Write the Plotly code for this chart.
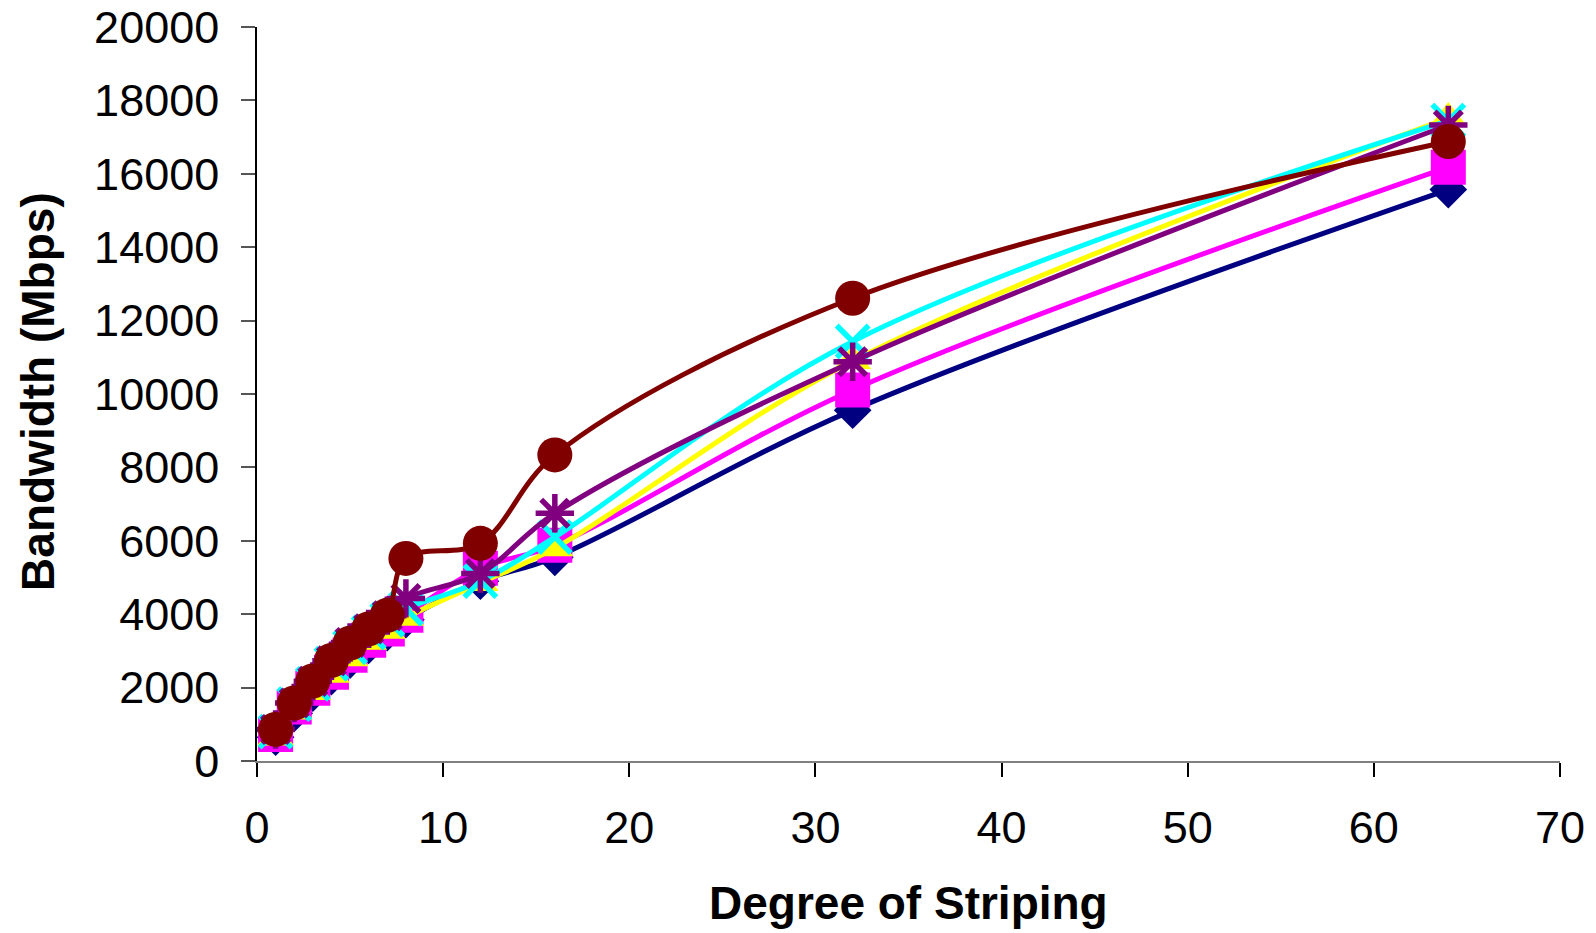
import plotly.graph_objects as go

# degree of striping
stripes = [1, 2, 3, 4, 5, 6, 7, 8, 12, 16, 32, 64]

# bandwidth (Mbps) per series
navy_bw = [650, 1300, 1850, 2300, 2750, 3150, 3500, 3850, 4900, 5550, 9560, 15570]
magenta_bw = [720, 1470, 1980, 2420, 2880, 3290, 3600, 3970, 5250, 5880, 10110, 16180]
yellow_bw = [640, 1350, 1880, 2350, 2800, 3250, 3550, 3900, 4850, 5800, 10900, 17520]
cyan_bw = [800, 1550, 2100, 2650, 3100, 3500, 3850, 4150, 4900, 6100, 11430, 17450]
purple_bw = [860, 1580, 2170, 2730, 3230, 3600, 3960, 4430, 5110, 6750, 10880, 17330]
brown_bw = [860, 1580, 2180, 2740, 3210, 3600, 3970, 5520, 5930, 8340, 12610, 16880]

series = [
    (navy_bw, "#000080", "diamond", 29),
    (magenta_bw, "#FF00FF", "square", 35),
    (yellow_bw, "#FFFF00", "triangle-up", 32),
    (cyan_bw, "#00FFFF", "x-thin-open", 32),
    (purple_bw, "#800080", "asterisk-open", 32),
    (brown_bw, "#800000", "circle", 35),
]

FONT = "Liberation Sans, Arial, sans-serif"

fig = go.Figure()
for ys, color, symbol, size in series:
    marker = dict(symbol=symbol, size=size, color=color)
    if symbol.endswith("-open"):
        marker["line"] = dict(color=color, width=5.5)
    else:
        marker["line"] = dict(width=0)
    fig.add_trace(go.Scatter(
        x=stripes, y=ys, mode="lines+markers",
        line=dict(color=color, width=5, shape="spline", smoothing=1),
        marker=marker, showlegend=False, cliponaxis=False,
    ))

fig.update_xaxes(
    range=[0, 70], dtick=10, showgrid=False, zeroline=False, automargin=False,
    showline=True, linecolor="#808080", linewidth=2,
    ticks="outside", ticklen=14, tickwidth=1.5, tickcolor="black",
    ticklabelstandoff=12, ticklabeloverflow="allow",
    tickfont=dict(family=FONT, size=45, color="black"),
)
fig.update_yaxes(
    range=[0, 20000], dtick=2000, tickformat="d", showgrid=False, zeroline=False,
    automargin=False, showline=True, linecolor="black", linewidth=1.5,
    ticks="outside", ticklen=14, tickwidth=1.5, tickcolor="#555555",
    ticklabelstandoff=13, ticklabeloverflow="allow",
    tickfont=dict(family=FONT, size=45, color="black"),
)

fig.add_annotation(
    text="<b>Degree of Striping</b>", xref="paper", yref="paper",
    x=0.5, y=-0.194, yanchor="middle", showarrow=False,
    font=dict(family=FONT, size=46, color="black"),
)
fig.add_annotation(
    text="<b>Bandwidth (Mbps)</b>", xref="paper", yref="paper",
    x=-0.168, y=0.503, xanchor="center", yanchor="middle", textangle=-90,
    showarrow=False, font=dict(family=FONT, size=46, color="black"),
)

# page body adds an 8px offset, so margins are shifted to compensate
fig.update_layout(
    width=1596, height=933,
    margin=dict(l=249, r=44, t=19, b=180),
    plot_bgcolor="white", paper_bgcolor="white",
)

fig.write_html("out.html")
